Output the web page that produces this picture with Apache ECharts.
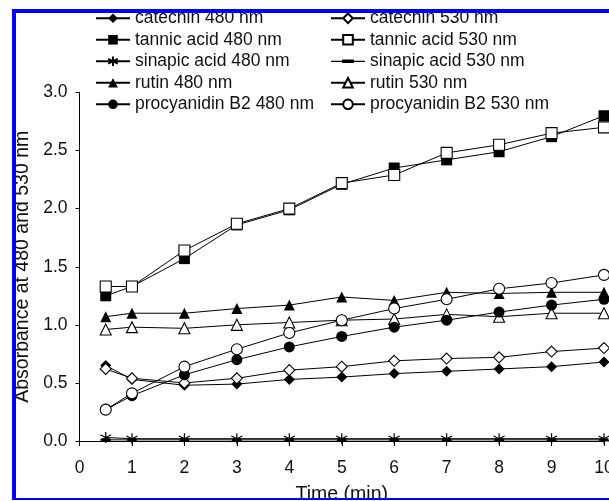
<!DOCTYPE html>
<html>
<head>
<meta charset="utf-8">
<script src="https://cdn.jsdelivr.net/npm/echarts@6/dist/echarts.min.js"></script>
<style>
  html, body { margin: 0; padding: 0; background: #fff; overflow: hidden; }
  #wrap { position: relative; width: 609px; height: 501px; overflow: hidden; background: #fff; }
  #chart { position: absolute; left: 0; top: 0; width: 609px; height: 501px;
           clip-path: inset(13px 0px 3px 16px); }
  #frame { position: absolute; left: 12px; top: 9px; width: 640px; height: 485px;
           border-left: 4px solid #0000ff; border-top: 4px solid #0000ff;
           border-bottom: 2px solid #0000ff; border-right: none; pointer-events: none; }
</style>
</head>
<body>
<div id="wrap">
  <div id="chart"></div>
  <div id="frame"></div>
</div>
<script>
// Sampling times (min)
const time = [0.5, 1, 2, 3, 4, 5, 6, 7, 8, 9, 10];

// Absorbance readings at 480 nm and 530 nm
const catechin480   = [0.65, 0.53, 0.48, 0.49, 0.53, 0.55, 0.58, 0.60, 0.62, 0.64, 0.68];
const catechin530   = [0.62, 0.54, 0.50, 0.54, 0.61, 0.64, 0.69, 0.71, 0.72, 0.77, 0.80];
const tannic480     = [1.25, 1.33, 1.57, 1.86, 1.99, 2.21, 2.35, 2.42, 2.49, 2.62, 2.80];
const tannic530     = [1.33, 1.33, 1.64, 1.87, 2.00, 2.22, 2.29, 2.48, 2.55, 2.65, 2.70];
const sinapic480    = [0.03, 0.02, 0.02, 0.02, 0.02, 0.02, 0.02, 0.02, 0.02, 0.02, 0.02];
const sinapic530    = [0.01, 0.01, 0.01, 0.01, 0.01, 0.01, 0.01, 0.01, 0.01, 0.01, 0.01];
const rutin480      = [1.07, 1.10, 1.10, 1.14, 1.17, 1.24, 1.21, 1.28, 1.27, 1.28, 1.28];
const rutin530      = [0.96, 0.98, 0.97, 1.00, 1.02, 1.04, 1.05, 1.09, 1.07, 1.10, 1.10];
const procyanidin480 = [0.27, 0.39, 0.57, 0.70, 0.81, 0.90, 0.98, 1.04, 1.11, 1.17, 1.22];
const procyanidin530 = [0.27, 0.41, 0.64, 0.79, 0.93, 1.04, 1.14, 1.22, 1.31, 1.36, 1.43];

// Axis ticks
const xTicks = [0, 1, 2, 3, 4, 5, 6, 7, 8, 9, 10];
const yTicks = [0.0, 0.5, 1.0, 1.5, 2.0, 2.5, 3.0];

const FONT = '"Liberation Sans", Arial, Helvetica, sans-serif';
const INK = '#111';

const ASTERISK = 'path://M5,0V10M0.67,2.5L9.33,7.5M0.67,7.5L9.33,2.5';
const DASH = 'path://M0,0h3v1h-3z';
// legend icon for the dash marker: connecting line with a short thick bar
const DASH_ICON = 'path://M0,5.4h34v1.2h-34zM11,4.3h12v3.4h-12z';

function pairs(vals) { return time.map((t, i) => [t, vals[i]]); }

function mk(name, vals, symbol, filled, size) {
  return {
    name: name,
    type: 'line',
    data: pairs(vals),
    symbol: symbol,
    symbolSize: size,
    showAllSymbol: true,
    lineStyle: { color: '#000', width: 1 },
    itemStyle: {
      color: filled ? '#000' : '#fff',
      borderColor: '#000',
      borderWidth: filled ? 0 : 1.1
    },
    emphasis: { disabled: true },
    animation: false
  };
}

const series = [
  mk('catechin 480 nm', catechin480, 'diamond', true, 11),
  mk('catechin 530 nm', catechin530, 'diamond', false, 11),
  mk('tannic acid 480 nm', tannic480, 'rect', true, 11),
  mk('tannic acid 530 nm', tannic530, 'rect', false, 11),
  mk('sinapic acid 480 nm', sinapic480, ASTERISK, true, 11),
  mk('sinapic acid 530 nm', sinapic530, DASH, true, [9, 3]),
  mk('rutin 480 nm', rutin480, 'triangle', true, 11),
  mk('rutin 530 nm', rutin530, 'triangle', false, 11),
  mk('procyanidin B2 480 nm', procyanidin480, 'circle', true, 11),
  mk('procyanidin B2 530 nm', procyanidin530, 'circle', false, 11)
];
// asterisk is drawn with strokes only
series[4].itemStyle = { color: '#000', borderColor: '#000', borderWidth: 1.2 };

const legendBase = {
  orient: 'vertical',
  top: 9.3,
  padding: 0,
  itemWidth: 34,
  itemHeight: 12,
  itemGap: 3.5,
  symbolKeepAspect: true,
  selectedMode: false,
  textStyle: { fontFamily: FONT, fontSize: 17.5, color: INK, lineHeight: 18 }
};

function legendItem(s) {
  return s.symbol === DASH ? { name: s.name, icon: DASH_ICON } : { name: s.name };
}

const option = {
  backgroundColor: '#fff',
  animation: false,
  legend: [
    Object.assign({}, legendBase, {
      left: 95,
      data: series.filter((s, i) => i % 2 === 0).map(legendItem)
    }),
    Object.assign({}, legendBase, {
      left: 330,
      data: series.filter((s, i) => i % 2 === 1).map(legendItem)
    })
  ],
  grid: {
    left: 79.5, right: 5, top: 92.5, bottom: 60,
    containLabel: false,
    outerBoundsMode: 'none'
  },
  xAxis: {
    type: 'value',
    min: xTicks[0],
    max: xTicks[xTicks.length - 1],
    interval: 1,
    name: 'Time (min)',
    nameLocation: 'middle',
    nameGap: 44,
    nameTextStyle: { fontFamily: FONT, fontSize: 19.5, color: INK },
    axisLine: { onZero: false, lineStyle: { color: '#000', width: 1 } },
    axisTick: { show: true, inside: false, length: 5, lineStyle: { color: '#000' } },
    axisLabel: { fontFamily: FONT, fontSize: 17.5, color: INK, margin: 18, hideOverlap: false },
    splitLine: { show: false }
  },
  yAxis: {
    type: 'value',
    min: yTicks[0],
    max: yTicks[yTicks.length - 1],
    interval: 0.5,
    name: 'Absorbance at 480 and 530 nm',
    nameLocation: 'middle',
    nameGap: 38,
    nameTextStyle: { fontFamily: FONT, fontSize: 19.5, color: INK },
    axisLine: { show: true, lineStyle: { color: '#000', width: 1 } },
    axisTick: { show: true, inside: false, length: 4, lineStyle: { color: '#000' } },
    axisLabel: {
      fontFamily: FONT, fontSize: 17.5, color: INK, margin: 12,
      formatter: v => v.toFixed(1)
    },
    splitLine: { show: false }
  },
  series: series
};

const chart = echarts.init(document.getElementById('chart'), null, { renderer: 'canvas' });
chart.setOption(option);
</script>
</body>
</html>
